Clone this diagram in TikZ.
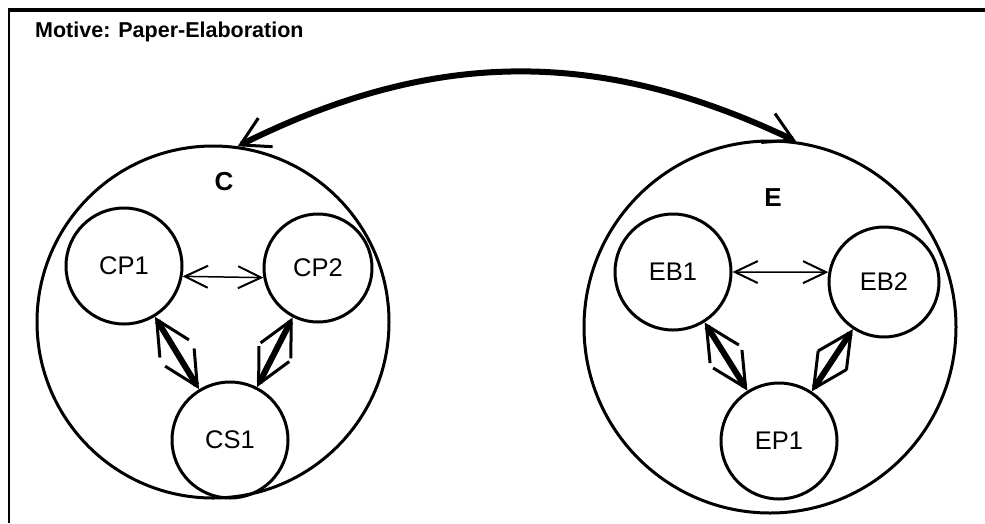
\documentclass[tikz,border=0pt]{standalone}
\usepackage{fontspec}
\setmainfont{Liberation Sans}
\usetikzlibrary{arrows.meta}
\begin{document}
\begin{tikzpicture}[x=1pt,y=-1pt,
  group/.style={circle, draw, line width=3pt, minimum size=352pt, inner sep=0pt},
  member/.style={circle, draw, line width=3pt, minimum size=116pt, inner sep=0pt,
    font=\fontsize{25.5}{28}\selectfont},
  grouplabel/.style={font=\bfseries\fontsize{26}{30}\selectfont, inner sep=0pt},
  thinbarb/.tip={Straight Barb[length=23pt,width=22pt,line width=2pt]},
  thickbarb/.tip={Straight Barb[length=34pt,width=34pt,line width=3pt]},
  bigbarb/.tip={Straight Barb[length=28pt,width=32pt,line width=3pt]},
  peer/.style={line width=1.5pt, thinbarb-thinbarb},
  strong/.style={line width=6pt, thickbarb-thickbarb},
  link/.style={line width=6pt, bigbarb-bigbarb}
]
\useasboundingbox (0,0) rectangle (985,523);

% frame
\draw[line width=2pt] (9,523) -- (9,10);
\draw[line width=3.5pt] (8,10) -- (985,10);
\node[anchor=base west, inner sep=0pt, font=\bfseries\fontsize{21.5}{25}\selectfont]
  (title) at (35,37.5) {Motive: Paper-Elaboration};

% group C
\node[group] (c) at (213,322) {};
\node[grouplabel] (clabel) at (224,182) {C};
\node[member] (cp1) at (124,266) {CP1};
\node[member, minimum size=108pt] (cp2) at (318,268) {CP2};
\node[member] (cs1) at (230,440) {CS1};

% group E
\node[group, minimum size=372pt] (e) at (770,327) {};
\node[grouplabel] (elabel) at (773,198) {E};
\node[member] (eb1) at (673,272) {EB1};
\node[member, minimum size=110pt] (eb2) at (884,282) {EB2};
\node[member] (ep1) at (779,441) {EP1};

% connectors
\draw[peer] (cp1.-10) -- (cp2.190);
\draw[strong] (cp1) -- (cs1);
\draw[strong] (cp2) -- (cs1);
\draw[peer] (eb1.east) -- (eb2.170);
\draw[strong] (eb1) -- (ep1);
\draw[strong] (eb2) -- (ep1);
\draw[link] (c.82) to[bend left=26] (e.82);
\end{tikzpicture}
\end{document}
